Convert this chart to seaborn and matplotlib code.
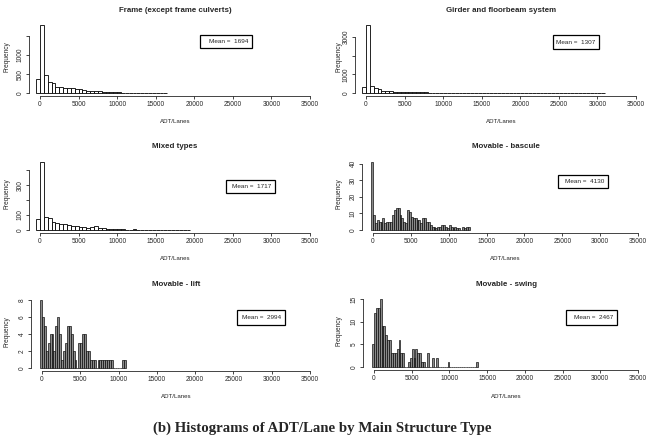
import numpy as np
import pandas as pd
import matplotlib
matplotlib.use("Agg")
import matplotlib.pyplot as plt
import seaborn as sns

# bin counts, one list per structure type
titles = ["Frame (except frame culverts)", "Girder and floorbeam system",
          "Mixed types", "Movable - bascule", "Movable - lift", "Movable - swing"]
means = [1694, 1307, 1717, 4130, 2994, 2467]
bin_width = [500, 500, 500, 250, 250, 250]
bin_start = [-500, -500, -500, -250, -250, -250]

frame = [380, 1800, 477, 290, 275, 168, 160, 132, 130, 125, 97, 95, 70, 62, 53, 45, 40,
         35, 30, 25, 20, 15, 12, 10, 8, 6, 3, 2, 1, 1, 0, 1, 0, 1]
girder = [340, 3640, 375, 250, 195, 125, 125, 90, 70, 70, 55, 50, 45, 40, 35, 30, 28,
          25, 22, 20, 18, 15, 14, 12,
          3, 2, 2, 1, 1, 1, 0, 1, 1, 0, 0, 1, 0, 0, 1, 0, 0, 0, 1, 0, 0, 0, 0, 1, 0,
          0, 0, 0, 0, 1, 0, 0, 0, 0, 0, 0, 0, 0, 1]
mixed = [72, 455, 90, 79, 54, 50, 43, 38, 34, 29, 27, 22, 18, 16, 22, 25, 16, 11, 7, 5,
         9, 7, 4, 2, 3, 5, 2, 1, 1, 0, 1, 0, 0, 1, 0, 0, 0, 0, 1, 3]
bascule = [41, 9, 4, 6, 5, 5, 7, 4, 5, 5, 5, 9, 12, 13, 13, 9, 7, 5, 4, 12, 11, 8, 7,
           7, 6, 6, 4, 7, 7, 5, 5, 3, 2, 2, 1, 2, 2, 3, 3, 2, 1, 3, 2, 1, 2, 1, 1, 0,
           2, 1, 2, 2]
lift = [8, 6, 5, 2, 3, 4, 4, 2, 5, 6, 4, 1, 2, 3, 5, 5, 4, 2, 1, 0, 3, 3, 4, 4, 2, 2,
        1, 1, 1, 0, 1, 1, 1, 1, 1, 1, 1, 1, 0, 0, 0, 0, 0, 1, 1]
swing = [5, 12, 13, 13, 15, 9, 9, 7, 6, 6, 3, 3, 3, 4, 6, 3, 3, 0, 0, 1, 2, 4, 2, 4, 3,
         3, 1, 1, 0, 3, 0, 0, 2, 0, 2, 0, 0, 0, 0, 0, 1, 0, 0, 0, 0, 0, 0, 0, 0, 0,
         0, 0, 0, 0, 0, 1]
all_counts = [frame, girder, mixed, bascule, lift, swing]

yticks = [[0, 500, 1000, 1500], [0, 1000, 2000, 3000], [0, 100, 200, 300, 400],
          [0, 10, 20, 30, 40], [0, 2, 4, 6, 8], [0, 5, 10, 15]]
ylabels = [["0", "500", "1000", ""], ["0", "1000", "", "3000"], ["0", "100", "", "300", ""],
           ["0", "10", "20", "30", "40"], ["0", "2", "4", "6", "8"], ["0", "5", "10", "15"]]
xticks = [0, 5000, 10000, 15000, 20000, 25000, 30000, 35000]

# pixel layout: x of 0, x of 35000, y of 0, y of highest bar
geom = [(40, 310, 93, 25), (366, 636, 93, 25),
        (40, 310, 230, 162), (373, 638, 230, 162),
        (42, 310, 368, 300), (374, 638, 367, 299)]
boxes = [(200, 35, 52, 13), (553, 35, 46, 14), (226, 180, 49, 13),
         (558, 175, 50, 13), (237, 310, 48, 15), (566, 310, 51, 15)]

W, H = 652, 438
sns.set_style("ticks")
plt.rcParams['font.family'] = ['Liberation Sans', 'DejaVu Sans']
fig = plt.figure(figsize=(W / 100, H / 100), dpi=100)

for i in range(6):
    cnt = np.array(all_counts[i])
    edges = bin_start[i] + bin_width[i] * np.arange(len(cnt) + 1)
    df = pd.DataFrame({"adt": edges[:-1] + bin_width[i] / 2, "n": cnt})
    ymax = cnt.max()
    x0, x35, y0, ypk = geom[i]
    ppx = (x35 - x0) / 35000.0
    ppy = (y0 - ypk) / ymax
    left = x0 - 1400 * ppx
    width = 37800 * ppx
    bot = y0 + 0.04 * ymax * ppy
    top = y0 - 1.04 * ymax * ppy
    ax = fig.add_axes([left / W, 1 - bot / H, width / W, (bot - top) / H])
    thin = bin_width[i] < 500
    sns.histplot(data=df, x="adt", weights="n", bins=[float(e) for e in edges], ax=ax,
                 color="#8a8a8a" if thin else "white", alpha=1,
                 edgecolor="black", linewidth=0.45 if thin else 0.6)
    ax.set_xlim(-1400, 36400)
    ax.set_ylim(-0.04 * ymax, 1.04 * ymax)
    ax.set_xticks(xticks)
    ax.set_xticklabels([str(t) for t in xticks])
    ax.set_yticks(yticks[i])
    ax.set_yticklabels(ylabels[i], rotation=90, va="center")
    ax.spines["top"].set_visible(False)
    ax.spines["right"].set_visible(False)
    ax.spines["bottom"].set_bounds(0, 35000)
    ax.spines["left"].set_bounds(0, yticks[i][-1])
    for s in ["bottom", "left"]:
        ax.spines[s].set_linewidth(0.6)
    ax.tick_params(length=2.5, width=0.6, labelsize=4.7, pad=1.5)
    ax.set_xlabel("")
    ax.set_ylabel("")
    ax.patch.set_alpha(0)

    cx = (x0 + x35) / 2
    fig.text(cx / W, 1 - (y0 - 83) / H, titles[i], ha="center", va="center",
             fontsize=5.7, fontweight="bold")
    fig.text(cx / W, 1 - (y0 + 29) / H, "ADT/Lanes", ha="center", va="center", fontsize=4.4)
    fx = 7 if i % 2 == 0 else 339
    fig.text(fx / W, 1 - (y0 - 36) / H, "Frequency", ha="center", va="center",
             rotation=90, fontsize=4.7)

    bx, by, bw, bh = boxes[i]
    fig.add_artist(plt.Rectangle((bx / W, 1 - (by + bh) / H), bw / W, bh / H,
                                 transform=fig.transFigure, fill=False, lw=0.9,
                                 edgecolor="black"))
    fig.text((bx + bw - 4) / W, 1 - (by + bh / 2) / H, "Mean =  %d" % means[i],
             ha="right", va="center", fontsize=4.6)

fig.text(322 / W, 1 - 428 / H, "(b) Histograms of ADT/Lane by Main Structure Type",
         ha="center", va="center", fontsize=10.7, fontweight="bold",
         family=["Liberation Serif", "DejaVu Serif"])

fig.savefig("out.png", dpi=100, facecolor="white")
